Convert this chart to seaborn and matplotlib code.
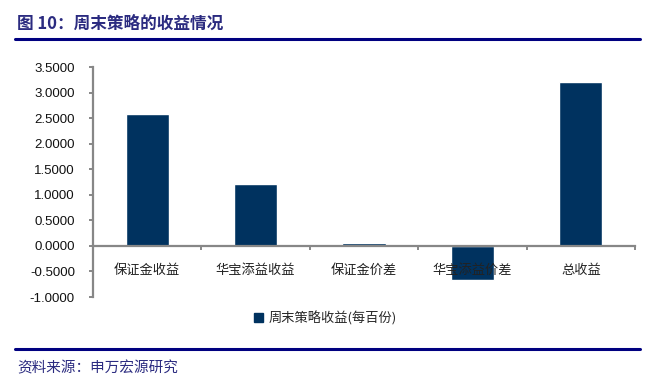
import numpy as np
import pandas as pd
import matplotlib
matplotlib.use("Agg")
import matplotlib.pyplot as plt
import matplotlib.patches as mpatches
from matplotlib.ticker import FixedLocator, FormatStrFormatter
import seaborn as sns

# --- data ---
categories = ["保证金收益", "华宝添益收益", "保证金价差", "华宝添益价差", "总收益"]
values = [2.59, 1.22, 0.06, -0.66, 3.20]
y_ticks = [-1.0, -0.5, 0.0, 0.5, 1.0, 1.5, 2.0, 2.5, 3.0, 3.5]
series_name = "周末策略收益(每百份)"
title = "图 10：周末策略的收益情况"
source = "资料来源：申万宏源研究"

BAR = "#00325F"
AXIS = "#878787"
NAVY = "#000080"
TEXT_NAVY = "#2B2B80"

sns.set_style("white")
plt.rcParams["font.family"] = ["Liberation Sans", "Noto Sans CJK SC", "DejaVu Sans"]

df = pd.DataFrame({"item": categories, "value": values})

fig = plt.figure(figsize=(6.58, 3.91), dpi=100)
ax = fig.add_axes([93 / 658, (391 - 297) / 391, 542 / 658, 230 / 391])

sns.barplot(data=df, x="item", y="value", color=BAR, width=0.4,
            saturation=1, ax=ax, zorder=0.5)

ax.set_xlim(-0.5, len(categories) - 0.5)
ax.set_ylim(-1.0, 3.5)
ax.set_xlabel("")
ax.set_ylabel("")

# spines
for s in ["top", "right"]:
    ax.spines[s].set_visible(False)
for s in ["left", "bottom"]:
    ax.spines[s].set_color(AXIS)
    ax.spines[s].set_linewidth(1.6)
ax.spines["bottom"].set_position(("data", 0))

# y axis
ax.yaxis.set_major_locator(FixedLocator(y_ticks))
ax.yaxis.set_major_formatter(FormatStrFormatter("%.4f"))
ax.tick_params(axis="y", direction="out", length=3, width=1.4, color=AXIS,
               pad=10, labelsize=9.5, labelcolor="#111111", left=True)

# x axis: labels at centres, ticks at boundaries
ax.set_xticks(range(len(categories)))
ax.set_xticklabels(categories, fontfamily=["Noto Sans CJK SC", "DejaVu Sans"])
ax.set_xticks(np.arange(len(categories) + 1) - 0.5, minor=True)
ax.tick_params(axis="x", which="major", length=0, pad=13, labelsize=9.5,
               labelcolor="#222222")
ax.tick_params(axis="x", which="minor", direction="out", length=3, width=1.4,
               color=AXIS, bottom=True)
ax.xaxis.set_zorder(5)

# legend
handle = mpatches.Patch(color=BAR, label=series_name)
fig.legend(handles=[handle], loc="center", bbox_to_anchor=(325 / 658, 1 - 318 / 391),
           frameon=False, handlelength=0.7, handleheight=0.7, handletextpad=0.4,
           prop={"family": ["Noto Sans CJK SC", "DejaVu Sans"], "size": 9.5})

# header / footer
fig.text(17 / 658, 1 - 24 / 391, title, fontsize=12, fontweight="bold",
         color=TEXT_NAVY, va="center", ha="left",
         family=["Noto Sans CJK SC", "DejaVu Sans"])
fig.add_artist(plt.Line2D([15 / 658, 640 / 658], [1 - 38.5 / 391, 1 - 38.5 / 391],
                          color=NAVY, linewidth=2.2, transform=fig.transFigure))
fig.add_artist(plt.Line2D([15 / 658, 640 / 658], [1 - 349 / 391, 1 - 349 / 391],
                          color=NAVY, linewidth=2.2, transform=fig.transFigure))
fig.text(17 / 658, 1 - 368 / 391, source, fontsize=10.5, color=TEXT_NAVY,
         va="center", ha="left", family=["Noto Sans CJK SC", "DejaVu Sans"])

fig.savefig("out.png", dpi=100)
